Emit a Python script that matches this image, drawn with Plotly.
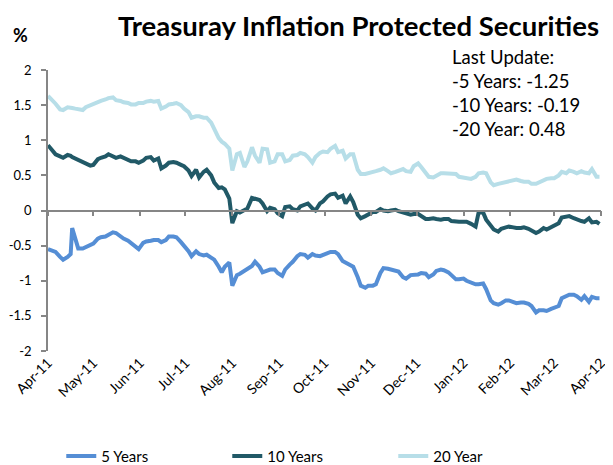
import pandas as pd
import plotly.graph_objects as go

# main sample dates (roughly every 5 days) and readings
dates = [
    "2011-04-01", "2011-04-06", "2011-04-11", "2011-04-16", "2011-04-17", "2011-04-21", "2011-04-26",
    "2011-05-01", "2011-05-06", "2011-05-11", "2011-05-16", "2011-05-21", "2011-05-26", "2011-05-31",
    "2011-06-05", "2011-06-10", "2011-06-15", "2011-06-20", "2011-06-25", "2011-06-30",
    "2011-07-05", "2011-07-10", "2011-07-15", "2011-07-20", "2011-07-25", "2011-07-30",
    "2011-08-01", "2011-08-04", "2011-08-09", "2011-08-14", "2011-08-19", "2011-08-24", "2011-08-29",
    "2011-09-03", "2011-09-08", "2011-09-13", "2011-09-18", "2011-09-23", "2011-09-28",
    "2011-10-03", "2011-10-08", "2011-10-13", "2011-10-18", "2011-10-23", "2011-10-28",
    "2011-11-02", "2011-11-07", "2011-11-12", "2011-11-17", "2011-11-22", "2011-11-27",
    "2011-12-02", "2011-12-07", "2011-12-12", "2011-12-17", "2011-12-22", "2011-12-27",
    "2012-01-01", "2012-01-06", "2012-01-09", "2012-01-11", "2012-01-16", "2012-01-21", "2012-01-26", "2012-01-31",
    "2012-02-05", "2012-02-10", "2012-02-15", "2012-02-20", "2012-02-25",
    "2012-03-01", "2012-03-06", "2012-03-11", "2012-03-16", "2012-03-21", "2012-03-26", "2012-03-29", "2012-03-31",
]

y5 = [
    -0.55, -0.59, -0.70, -0.62, -0.25, -0.54, -0.52,
    -0.47, -0.38, -0.35, -0.32, -0.40, -0.46, -0.55,
    -0.44, -0.42, -0.45, -0.37, -0.38, -0.50,
    -0.65, -0.62, -0.63, -0.70, -0.88, -0.74,
    -1.07, -0.92, -0.86, -0.79, -0.80, -0.86, -0.84,
    -0.93, -0.77, -0.65, -0.63, -0.62, -0.65,
    -0.60, -0.59, -0.72, -0.77, -0.95, -1.10,
    -1.07, -0.89, -0.83, -0.85, -0.95, -0.92,
    -0.91, -0.90, -0.91, -0.84, -0.88, -0.98,
    -0.97, -1.03, -1.05, -1.05, -1.12, -1.32, -1.32, -1.28,
    -1.32, -1.31, -1.36, -1.42, -1.43,
    -1.38, -1.25, -1.20, -1.22, -1.22, -1.23, -1.25, -1.25,
]

y10 = [
    0.93, 0.80, 0.75, 0.78, 0.76, 0.72, 0.67,
    0.65, 0.75, 0.80, 0.75, 0.75, 0.70, 0.68,
    0.75, 0.71, 0.60, 0.68, 0.68, 0.63,
    0.49, 0.47, 0.58, 0.40, 0.33, 0.17,
    -0.18, -0.01, 0.01, 0.18, 0.15, -0.01, 0.02,
    -0.08, 0.06, 0.00, 0.09, 0.03, 0.10,
    0.20, 0.24, 0.21, 0.20, -0.06, -0.08,
    -0.02, 0.02, -0.01, 0.01, -0.02, -0.06,
    -0.05, -0.12, -0.11, -0.13, -0.12, -0.16,
    -0.16, -0.19, -0.23, -0.03, -0.13, -0.27, -0.26, -0.23,
    -0.25, -0.24, -0.28, -0.30, -0.27,
    -0.22, -0.10, -0.08, -0.13, -0.16, -0.17, -0.16, -0.19,
]

y20 = [
    1.63, 1.52, 1.43, 1.47, 1.46, 1.44, 1.47,
    1.52, 1.56, 1.60, 1.57, 1.54, 1.51, 1.53,
    1.55, 1.55, 1.45, 1.51, 1.53, 1.45,
    1.32, 1.34, 1.32, 1.15, 0.98, 0.88,
    0.57, 0.80, 0.62, 0.90, 0.68, 0.87, 0.70,
    0.80, 0.72, 0.79, 0.80, 0.68, 0.82,
    0.83, 0.92, 0.85, 0.80, 0.58, 0.52,
    0.54, 0.58, 0.56, 0.55, 0.59, 0.55,
    0.67, 0.53, 0.47, 0.53, 0.53, 0.52,
    0.47, 0.45, 0.48, 0.53, 0.53, 0.36, 0.39, 0.42,
    0.44, 0.41, 0.38, 0.40, 0.45,
    0.46, 0.55, 0.57, 0.53, 0.54, 0.59, 0.48, 0.48,
]

# in-between sample dates and readings
mid_dates = [
    "2011-04-04", "2011-04-09", "2011-04-14", "2011-04-19", "2011-04-24", "2011-04-29",
    "2011-05-04", "2011-05-09", "2011-05-14", "2011-05-19", "2011-05-24", "2011-05-29",
    "2011-06-03", "2011-06-08", "2011-06-13", "2011-06-18", "2011-06-23", "2011-06-28",
    "2011-07-03", "2011-07-08", "2011-07-13", "2011-07-18", "2011-07-23", "2011-07-27",
    "2011-08-06", "2011-08-11", "2011-08-16", "2011-08-21", "2011-08-26", "2011-08-31",
    "2011-09-05", "2011-09-10", "2011-09-15", "2011-09-20", "2011-09-25", "2011-09-30",
    "2011-10-05", "2011-10-10", "2011-10-15", "2011-10-20", "2011-10-25", "2011-10-30",
    "2011-11-04", "2011-11-09", "2011-11-14", "2011-11-19", "2011-11-24", "2011-11-29",
    "2011-12-04", "2011-12-09", "2011-12-14", "2011-12-19", "2011-12-24", "2011-12-29",
    "2012-01-03", "2012-01-14", "2012-01-19", "2012-01-24", "2012-01-29",
    "2012-02-03", "2012-02-08", "2012-02-13", "2012-02-18", "2012-02-23", "2012-02-28",
    "2012-03-04", "2012-03-09", "2012-03-14", "2012-03-19", "2012-03-24",
]

mid5 = [
    -0.57, -0.66, -0.66, -0.40, -0.54, -0.49,
    -0.40, -0.37, -0.31, -0.37, -0.43, -0.51,
    -0.46, -0.43, -0.42, -0.42, -0.37, -0.45,
    -0.58, -0.58, -0.64, -0.68, -0.80, -0.80,
    -0.90, -0.84, -0.73, -0.88, -0.84, -0.89,
    -0.84, -0.73, -0.62, -0.67, -0.64, -0.63,
    -0.59, -0.62, -0.74, -0.80, -1.07, -1.07,
    -1.05, -0.82, -0.84, -0.87, -0.97, -0.92,
    -0.89, -0.95, -0.86, -0.85, -0.92, -0.98,
    -1.00, -1.04, -1.28, -1.34, -1.28,
    -1.31, -1.31, -1.33, -1.45, -1.42, -1.40,
    -1.36, -1.22, -1.20, -1.27, -1.30,
]

mid10 = [
    0.86, 0.77, 0.79, 0.74, 0.70, 0.64,
    0.73, 0.77, 0.77, 0.77, 0.72, 0.70,
    0.71, 0.76, 0.74, 0.64, 0.69, 0.65,
    0.57, 0.58, 0.55, 0.50, 0.32, 0.30,
    -0.03, 0.03, 0.17, 0.10, 0.04, -0.04,
    0.05, 0.02, 0.06, 0.10, 0.00, 0.13,
    0.23, 0.18, 0.10, 0.12, -0.11, -0.06,
    -0.02, 0.00, 0.00, -0.01, -0.04, -0.05,
    -0.08, -0.12, -0.12, -0.12, -0.15, -0.16,
    -0.16, -0.03, -0.22, -0.30, -0.24,
    -0.24, -0.25, -0.26, -0.32, -0.25, -0.24,
    -0.18, -0.08, -0.11, -0.15, -0.11,
]

mid20 = [
    1.57, 1.44, 1.47, 1.45, 1.43, 1.50,
    1.54, 1.58, 1.61, 1.56, 1.53, 1.51,
    1.53, 1.56, 1.56, 1.48, 1.52, 1.50,
    1.40, 1.34, 1.32, 1.25, 1.03, 0.95,
    0.82, 0.70, 0.78, 0.88, 0.68, 0.80,
    0.70, 0.78, 0.82, 0.76, 0.76, 0.84,
    0.88, 0.83, 0.74, 0.80, 0.52, 0.53,
    0.56, 0.60, 0.53, 0.57, 0.56, 0.63,
    0.62, 0.48, 0.50, 0.53, 0.53, 0.48,
    0.46, 0.54, 0.40, 0.38, 0.41,
    0.43, 0.42, 0.41, 0.38, 0.44, 0.46,
    0.50, 0.53, 0.55, 0.56, 0.53,
]

month_ticks = ["2011-04-01", "2011-05-01", "2011-06-01", "2011-07-01", "2011-08-01",
               "2011-09-01", "2011-10-01", "2011-11-01", "2011-12-01", "2012-01-01",
               "2012-02-01", "2012-03-01", "2012-04-01"]
month_labels = ["Apr-11", "May-11", "Jun-11", "Jul-11", "Aug-11", "Sep-11", "Oct-11",
                "Nov-11", "Dec-11", "Jan-12", "Feb-12", "Mar-12", "Apr-12"]

y_ticks = [-2, -1.5, -1, -0.5, 0, 0.5, 1, 1.5, 2]
y_labels = ["-2", "-1.5", "-1", "-0.5", "0", "0.5", "1", "1.5", "2"]

series_names = ["5 Years", "10 Years", "20 Year"]
colors = ["#558ED5", "#215967", "#B7DEE8"]

df = pd.concat([
    pd.DataFrame({"date": dates, "s5": y5, "s10": y10, "s20": y20}),
    pd.DataFrame({"date": mid_dates, "s5": mid5, "s10": mid10, "s20": mid20}),
])
df["date"] = pd.to_datetime(df["date"])
df = df.sort_values("date")

FONT = "Lato, Carlito, 'Liberation Sans', sans-serif"
AXIS = "#868686"

fig = go.Figure()
for name, col, c in zip(series_names, ["s5", "s10", "s20"], colors):
    fig.add_trace(go.Scatter(x=df["date"], y=df[col], mode="lines", name=name,
                             line=dict(color=c, width=4)))

# invisible helper trace so the zero-line axis is drawn
fig.add_trace(go.Scatter(x=month_ticks, y=[None] * len(month_ticks), xaxis="x2",
                         showlegend=False, hoverinfo="skip", mode="lines"))

xrange = ["2011-04-01", "2012-04-01"]
# the page body adds an 8px margin, so the figure is 8px smaller on each axis
fig.update_layout(
    width=605, height=457,
    margin=dict(l=40, r=12, t=62, b=114, autoexpand=False),
    paper_bgcolor="white", plot_bgcolor="white",
    font=dict(family=FONT, size=14, color="#000000"),
    showlegend=True,
    legend=dict(orientation="h", x=0.024, xanchor="left", y=-0.316, yanchor="top",
                entrywidth=121, font=dict(size=15, family=FONT)),
    xaxis=dict(type="date", range=xrange, tickvals=month_ticks, ticktext=month_labels,
               tickangle=-45, showline=False, ticks="", showgrid=False, zeroline=False,
               tickfont=dict(size=14, family=FONT)),
    xaxis2=dict(type="date", range=xrange, overlaying="x", anchor="free", position=0.5,
                tickvals=month_ticks, showticklabels=False, ticks="outside", ticklen=5,
                tickcolor=AXIS, tickwidth=1.5, showline=True, linecolor=AXIS, linewidth=1.5,
                showgrid=False, zeroline=False, side="bottom"),
    yaxis=dict(range=[-2, 2], tickvals=y_ticks, ticktext=y_labels,
               showline=True, linecolor=AXIS, linewidth=1.5, ticks="outside", ticklen=5,
               tickcolor=AXIS, tickwidth=1.5, showgrid=False, zeroline=False,
               ticklabelstandoff=7, tickfont=dict(size=13, family=FONT)),
    annotations=[
        dict(text="<b>Treasuray Inflation Protected Securities</b>", xref="paper", yref="paper",
             x=1.0, y=1.0, xanchor="right", yanchor="middle", yshift=45, showarrow=False,
             font=dict(size=27.5, family=FONT)),
        dict(text="<b>%</b>", xref="paper", yref="paper", x=-0.05, y=1.0, xanchor="center",
             yanchor="middle", yshift=35, showarrow=False, font=dict(size=18, family=FONT)),
        dict(text="Last Update:<br>-5 Years: -1.25<br>-10 Years: -0.19<br>-20 Year: 0.48",
             xref="paper", yref="paper", x=0.727, y=0.918, xanchor="left", yanchor="middle",
             align="left", showarrow=False, font=dict(size=18.5, family=FONT)),
    ],
)

fig.write_html("out.html")
